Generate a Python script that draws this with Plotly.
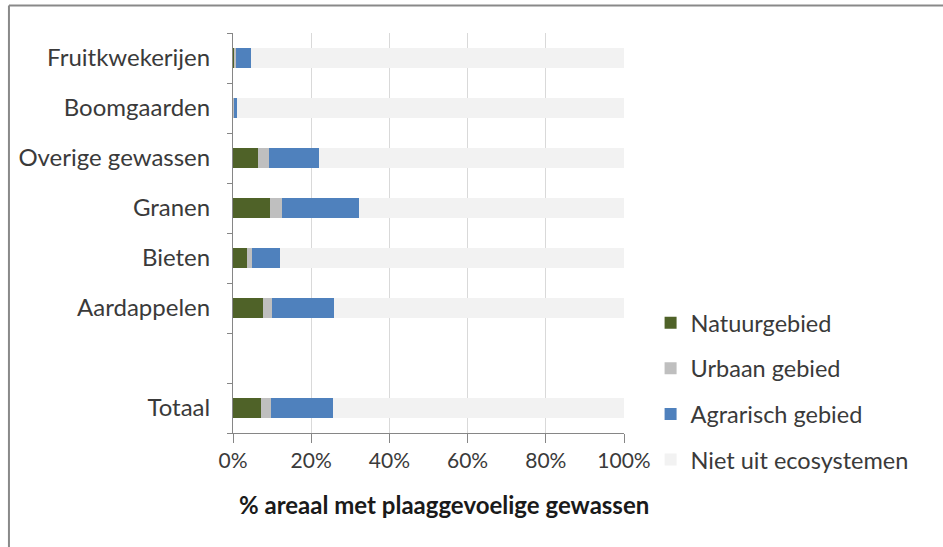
import plotly.graph_objects as go

# Crop groups, top to bottom; the blank entry leaves an empty row above the total
categories = ["Fruitkwekerijen", "Boomgaarden", "Overige gewassen", "Granen",
              "Bieten", "Aardappelen", " ", "Totaal"]

# Share of the area (%) by origin of the pest-sensitive area
natuurgebied = [0.5, 0.2, 6.4, 9.5, 3.7, 7.6, None, 7.2]
urbaan_gebied = [0.3, 0.2, 2.7, 3.1, 1.2, 2.3, None, 2.6]
agrarisch_gebied = [3.7, 0.5, 12.8, 19.7, 7.0, 15.9, None, 15.9]
niet_uit_ecosystemen = [
    None if n is None else round(100 - n - u - a, 1)
    for n, u, a in zip(natuurgebied, urbaan_gebied, agrarisch_gebied)
]

series = [
    ("Natuurgebied", natuurgebied, "#4F6228"),
    ("Urbaan gebied", urbaan_gebied, "#BFBFBF"),
    ("Agrarisch gebied", agrarisch_gebied, "#4F81BD"),
    ("Niet uit ecosystemen", niet_uit_ecosystemen, "#F2F2F2"),
]

x_ticks = [0, 20, 40, 60, 80, 100]
x_tick_labels = ["0%", "20%", "40%", "60%", "80%", "100%"]

FONT = "Lato"
TEXT = "#3a3a3a"

fig = go.Figure()
for i, (name, values, color) in enumerate(series):
    fig.add_trace(go.Bar(
        y=categories, x=values, name=name, orientation="h",
        marker=dict(color=color, line=dict(width=0)),
        legendgroup=f"g{i}",
    ))

fig.update_layout(
    width=943, height=547,
    margin=dict(l=233, r=319, t=33, b=114),
    barmode="stack", bargap=0.6,
    paper_bgcolor="white", plot_bgcolor="white",
    font=dict(family=FONT, size=24, color=TEXT),
    showlegend=True,
    legend=dict(
        x=1.068, y=0.33, xanchor="left", yanchor="top",
        traceorder="grouped", tracegroupgap=12,
        font=dict(family=FONT, size=23.5, color=TEXT),
        bgcolor="rgba(0,0,0,0)",
    ),
    xaxis=dict(
        range=[0, 100], tickvals=x_ticks, ticktext=x_tick_labels,
        showgrid=True, gridcolor="#D9D9D9", gridwidth=1,
        showline=True, linecolor="#868686", linewidth=1,
        ticks="outside", ticklen=9, tickcolor="#868686",
        zeroline=False, tickfont=dict(size=21, color=TEXT),
    ),
    yaxis=dict(
        type="category", categoryorder="array",
        categoryarray=categories[::-1],
        showgrid=False, showline=True, linecolor="#868686", linewidth=1,
        ticks="outside", ticklen=5, tickcolor="#868686",
        tickson="boundaries", ticklabelstandoff=17,
        tickfont=dict(size=24, color=TEXT),
    ),
    annotations=[dict(
        text="<b>% areaal met plaaggevoelige gewassen</b>",
        xref="paper", yref="paper", x=0.54, y=-0.178,
        xanchor="center", yanchor="middle", showarrow=False,
        font=dict(family=FONT, size=24, color="#1a1a1a"),
    )],
    shapes=[
        dict(type="line", xref="paper", yref="paper",
             x0=-0.573, x1=-0.573, y0=1.069, y1=-0.3,
             line=dict(color="#898989", width=2)),
        dict(type="line", xref="paper", yref="paper",
             x0=-0.573, x1=1.85, y0=1.069, y1=1.069,
             line=dict(color="#898989", width=2)),
    ],
)

fig.write_html("out.html")
